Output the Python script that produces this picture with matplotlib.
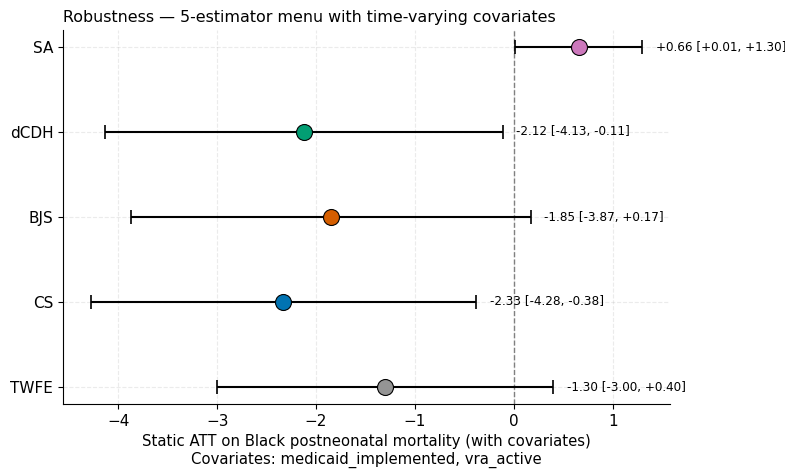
import matplotlib
matplotlib.use("Agg")
import matplotlib.pyplot as plt

estimators = ["TWFE", "CS", "BJS", "dCDH", "SA"]
att = [-1.30, -2.33, -1.85, -2.12, 0.66]
lo = [-3.00, -4.28, -3.87, -4.13, 0.01]
hi = [0.40, -0.38, 0.17, -0.11, 1.30]
colors = ["#949494", "#0173B2", "#D55E00", "#029E73", "#CC78BC"]

fig = plt.figure(figsize=(7.85, 4.7), dpi=100)
ax = fig.add_axes([63/785, 1-404/470, (670-63)/785, (404-30)/470])

for i, (e, a, l, h, c) in enumerate(zip(estimators, att, lo, hi, colors)):
    ax.errorbar([a], [i], xerr=[[a - l], [h - a]], fmt="none", ecolor="black",
                elinewidth=1.5, capsize=5, capthick=1.2, zorder=2)
    ax.plot([a], [i], "o", markersize=11.5, markerfacecolor=c,
            markeredgecolor="black", markeredgewidth=0.8, zorder=3)
    ax.text(h + 0.135, i, f"{a:+.2f} [{l:+.2f}, {h:+.2f}]", va="center",
            ha="left", fontsize=8.65)

ax.axvline(0, color="gray", linestyle="--", linewidth=1, zorder=1)
ax.set_yticks(range(len(estimators)))
ax.set_yticklabels(estimators)
ax.tick_params(axis="both", labelsize=11)
ax.grid(True, linestyle="--", alpha=0.25)
ax.set_axisbelow(True)
for s in ["top", "right"]:
    ax.spines[s].set_visible(False)
ax.set_xlabel("Static ATT on Black postneonatal mortality (with covariates)\nCovariates: medicaid_implemented, vra_active", fontsize=10.75)
ax.set_title("Robustness — 5-estimator menu with time-varying covariates", loc="left", fontsize=11.4)

fig.savefig("out.png", dpi=100)
